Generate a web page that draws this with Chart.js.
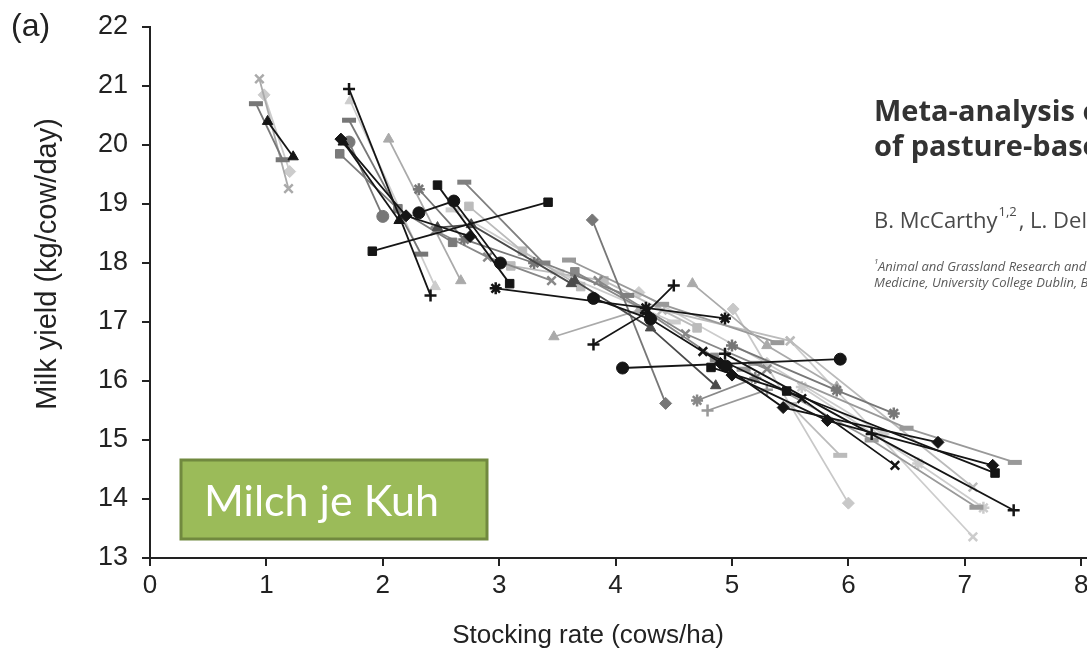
<!DOCTYPE html>
<html>
<head>
<meta charset="utf-8">
<script src="https://cdn.jsdelivr.net/npm/chart.js@4"></script>
<style>
  html, body { margin: 0; background: #fff; overflow: hidden; }
  canvas { display: block; }
</style>
</head>
<body>
<canvas id="myChart" width="1099" height="661"></canvas>
<script>
// tick labels
const xTicks = [0, 1, 2, 3, 4, 5, 6, 7, 8];
const yTicks = [13, 14, 15, 16, 17, 18, 19, 20, 21, 22];

// one entry per study: stocking rates (cows/ha) and milk yields (kg/cow/day)
const stockingRates = [
  [1.01, 1.23], [1.71, 2.41], [1.64, 2.2, 2.75], [1.66, 2.14], [1.91, 3.42],
  [2.31, 2.61, 3.01], [2.47, 3.09], [2.97, 4.26, 4.94], [3.81, 4.3, 4.95], [3.81, 4.26, 4.5],
  [4.06, 5.93], [4.82, 5.47, 7.26], [4.9, 5.44, 6.77], [5.0, 5.82, 7.24], [4.75, 5.6, 6.4],
  [4.94, 6.2, 7.42],
  [2.47, 2.76, 3.62], [3.65, 4.3, 4.86],
  [0.91, 1.14], [1.71, 2.33], [1.63, 2.13, 2.6], [1.71, 2.0], [2.31, 2.7, 3.3],
  [2.7, 3.38, 4.1], [3.8, 4.43], [4.7, 5.2], [5.0, 5.9, 6.39], [3.65, 4.25, 4.85],
  [3.85, 4.6, 5.3], [2.45, 2.9, 3.45],
  [5.2, 6.5, 7.43], [5.1, 6.2, 7.1], [4.79, 5.3], [3.47, 4.2], [4.66, 5.3, 5.9],
  [3.6, 4.4, 5.39], [2.05, 2.67], [0.94, 1.19], [4.4, 5.5, 7.07], [5.5, 5.93],
  [3.1, 3.9, 4.7], [2.74, 3.2, 3.7],
  [0.98, 1.2], [1.72, 2.45], [5.01, 6.0], [5.5, 7.07], [4.2, 5.3, 6.3],
  [5.6, 6.6, 7.16], [2.6, 3.5, 4.5]
];
const milkYields = [
  [20.4, 19.8], [20.95, 17.45], [20.1, 18.8, 18.45], [20.05, 18.72], [18.2, 19.03],
  [18.85, 19.05, 18.0], [19.32, 17.65], [17.57, 17.24, 17.06], [17.4, 17.05, 16.25], [16.62, 17.15, 17.62],
  [16.22, 16.37], [16.23, 15.83, 14.44], [16.3, 15.55, 14.96], [16.1, 15.33, 14.57], [16.5, 15.7, 14.57],
  [16.46, 15.1, 13.81],
  [18.6, 18.65, 17.65], [17.7, 16.9, 15.92],
  [20.7, 19.75], [20.42, 18.15], [19.85, 18.92, 18.35], [20.05, 18.79], [19.25, 18.4, 18.0],
  [19.37, 18.0, 17.45], [18.73, 15.62], [15.67, 16.05], [16.6, 15.84, 15.45], [17.85, 17.2, 16.4],
  [17.7, 16.8, 16.2], [18.55, 18.1, 17.7],
  [16.3, 15.2, 14.62], [16.2, 15.0, 13.86], [15.5, 15.85], [16.75, 17.2], [17.65, 16.6, 15.9],
  [18.05, 17.3, 16.65], [20.1, 17.7], [21.12, 19.26], [17.2, 16.68, 14.2], [15.6, 14.74],
  [17.95, 17.7, 16.9], [18.96, 18.2, 17.6],
  [20.85, 19.55], [20.75, 17.6], [17.22, 13.93], [16.68, 13.36], [17.5, 16.3, 15.1],
  [15.9, 14.6, 13.85], [18.9, 17.85, 17.0]
];

// marker style and grey shade for each study (same order)
const markerStyles = [
  'triangle', 'cross', 'rectRot', 'triangle', 'rect',
  'circle', 'rect', 'star', 'circle', 'cross',
  'circle', 'rect', 'rectRot', 'rectRot', 'crossRot',
  'cross',
  'triangle', 'triangle',
  'line', 'line', 'rect', 'circle', 'star',
  'line', 'rectRot', 'star', 'star', 'rect',
  'crossRot', 'crossRot',
  'line', 'line', 'cross', 'triangle', 'triangle',
  'line', 'triangle', 'crossRot', 'crossRot', 'line',
  'rect', 'rect',
  'rectRot', 'triangle', 'rectRot', 'crossRot', 'rectRot',
  'star', 'line'
];
const greys = [
  '#151515', '#151515', '#151515', '#151515', '#151515',
  '#151515', '#151515', '#151515', '#151515', '#151515',
  '#151515', '#151515', '#151515', '#151515', '#151515',
  '#151515',
  '#4a4a4a', '#4a4a4a',
  '#777777', '#777777', '#7a7a7a', '#777777', '#777777',
  '#808080', '#777777', '#888888', '#777777', '#888888',
  '#888888', '#888888',
  '#999999', '#999999', '#999999', '#aaaaaa', '#aaaaaa',
  '#999999', '#aaaaaa', '#aaaaaa', '#bbbbbb', '#bbbbbb',
  '#bbbbbb', '#bbbbbb',
  '#cccccc', '#cccccc', '#c8c8c8', '#cccccc', '#cccccc',
  '#cccccc', '#cccccc'
];

const datasets = stockingRates.map(function (xs, i) {
  const style = markerStyles[i];
  const open = style === 'cross' || style === 'crossRot' || style === 'star' || style === 'line';
  return {
    data: xs.map(function (x, j) { return { x: x, y: milkYields[i][j] }; }),
    showLine: true,
    borderColor: greys[i],
    backgroundColor: greys[i],
    borderWidth: 1.8,
    pointStyle: style,
    pointRadius: style === 'line' ? 7 : 6,
    pointBorderWidth: style === 'line' ? 5 : (open ? 2.5 : 1),
    pointBackgroundColor: greys[i],
    pointBorderColor: greys[i]
  };
});

// extra texts drawn on top: panel letter, axis titles, green label, paper header
const overlay = {
  id: 'overlay',
  afterDraw(chart) {
    const ctx = chart.ctx;
    ctx.save();
    ctx.fillStyle = '#222';
    ctx.textBaseline = 'middle';
    ctx.font = '32px "Liberation Sans"';
    ctx.textAlign = 'left';
    ctx.fillText('(a)', 11, 27);

    ctx.save();
    ctx.translate(48, 264);
    ctx.rotate(-Math.PI / 2);
    ctx.textAlign = 'center';
    ctx.font = '29px "Liberation Sans"';
    ctx.fillText('Milk yield (kg/cow/day)', 0, 0);
    ctx.restore();

    ctx.textAlign = 'center';
    ctx.font = '26px "Liberation Sans"';
    ctx.fillText('Stocking rate (cows/ha)', 588, 636);
    ctx.textAlign = 'left';

    ctx.fillStyle = '#9bbb59';
    ctx.fillRect(181, 460, 306, 79);
    ctx.strokeStyle = '#71893f';
    ctx.lineWidth = 3;
    ctx.strokeRect(181, 460, 306, 79);
    ctx.fillStyle = '#ffffff';
    ctx.font = '43px Lato';
    ctx.textBaseline = 'alphabetic';
    ctx.fillText('Milch je Kuh', 204, 516);

    ctx.fillStyle = '#333';
    ctx.font = 'bold 29px "Open Sans"';
    ctx.fillText('Meta-analysis of the impact of stocking rate', 874, 121);
    ctx.fillText('of pasture-based milk production systems', 874, 156);

    ctx.fillStyle = '#4a4a4a';
    ctx.font = '22px "Open Sans"';
    const author = 'B. McCarthy';
    ctx.fillText(author, 874, 228);
    const w = ctx.measureText(author).width;
    ctx.font = '13px "Open Sans"';
    ctx.fillText('1,2', 874 + w + 1, 216);
    const w2 = ctx.measureText('1,2').width;
    ctx.font = '22px "Open Sans"';
    ctx.fillText(', L. Delaby', 874 + w + w2 + 3, 228);

    ctx.font = 'italic 13px "Open Sans"';
    ctx.fillStyle = '#5a5a5a';
    ctx.fillText('Animal and Grassland Research and Innovation Centre', 878, 271);
    ctx.font = 'italic 8px "Open Sans"';
    ctx.fillText('1', 874, 264);
    ctx.font = 'italic 13px "Open Sans"';
    ctx.fillText('Medicine, University College Dublin, Belfield', 874, 287);
    ctx.restore();
  }
};

const config = {
  type: 'scatter',
  data: { datasets: datasets },
  options: {
    responsive: false,
    animation: false,
    events: [],
    layout: { padding: { top: 27, right: 0, bottom: 0, left: 0 } },
    plugins: {
      legend: { display: false },
      tooltip: { enabled: false }
    },
    scales: {
      x: {
        type: 'linear',
        min: 0,
        max: 8.05,
        afterBuildTicks: function (scale) {
          scale.ticks = xTicks.map(function (v) { return { value: v }; });
        },
        afterFit: function (scale) {
          scale.height = 103;
        },
        border: { color: '#222', width: 2 },
        grid: { drawOnChartArea: false, drawTicks: true, tickLength: 8, color: '#222', lineWidth: 2 },
        ticks: { color: '#222', font: { family: 'Liberation Sans', size: 26 }, padding: 4, maxRotation: 0 }
      },
      y: {
        type: 'linear',
        min: 13,
        max: 22,
        afterBuildTicks: function (scale) {
          scale.ticks = yTicks.map(function (v) { return { value: v }; });
        },
        afterFit: function (scale) {
          scale.width = 150;
          scale.paddingTop = 0;
          scale.paddingBottom = 0;
        },
        border: { color: '#222', width: 2 },
        grid: { drawOnChartArea: false, drawTicks: true, tickLength: 8, color: '#222', lineWidth: 2 },
        ticks: { color: '#222', font: { family: 'Liberation Sans', size: 27 }, padding: 14 }
      }
    }
  },
  plugins: [overlay]
};

const myChart = new Chart(document.getElementById('myChart'), config);
</script>
</body>
</html>
